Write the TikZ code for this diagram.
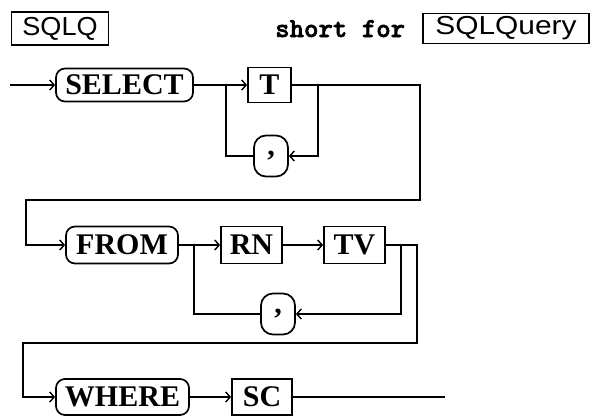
\documentclass[tikz,border=0pt]{standalone}
\usepackage{graphicx}
\usepackage{fontspec}
\newfontfamily\kwfont{Liberation Serif}
\newfontfamily\namefont{Liberation Sans}
\newfontfamily\twfont{lmmonolt10-bold.otf}[FakeBold=2]
\usetikzlibrary{arrows.meta}
\tikzset{
  conn/.style={line width=1.7pt},
  arr/.style={line width=1.7pt, -{Straight Barb[length=4.5pt,width=10pt,line width=1.4pt]}},
  kw/.style={font=\fontsize{30}{32}\selectfont\kwfont\bfseries},
  capsule/.style={draw, line width=1.7pt, rounded corners=9pt, inner sep=0pt, kw},
  commabox/.style={draw, line width=1.7pt, rounded corners=12pt, inner sep=0pt,
    minimum width=34pt, minimum height=41pt, kw},
  termbox/.style={draw, line width=1.7pt, inner sep=0pt, kw},
  namebox/.style={draw, line width=1.7pt, inner sep=0pt,
    font=\fontsize{26}{28}\selectfont\namefont},
}
\begin{document}
\begin{tikzpicture}[x=1pt,y=-1pt]
\useasboundingbox (0,0) rectangle (594,416);
% header
\node[namebox, minimum width=97pt, minimum height=33pt] (sqlq) at (60,28.5) {\scalebox{1.04}[1]{SQLQ}};
\node[anchor=base west, inner sep=0pt, font=\fontsize{27.5}{30}\selectfont\twfont] (short) at (275,37) {short for};
\node[namebox, minimum width=166pt, minimum height=30pt] (sqlquery) at (506,28.5) {\scalebox{1.15}[1]{SQLQuery}};
% row 1
\coordinate (start) at (10,85);
\node[capsule, minimum width=137pt, minimum height=33pt] (select) at (124.5,85) {SELECT};
\node[termbox, minimum width=43pt, minimum height=35pt] (t) at (269.5,85) {T};
\node[commabox] (c1) at (271,156) {,};
\coordinate (j1) at (226,85);
\coordinate (s1) at (318,85);
\coordinate (r1) at (420,85);
\coordinate (b1) at (420,200);
\coordinate (l1) at (26,200);
% row 2
\node[capsule, minimum width=112pt, minimum height=37pt] (from) at (122,245) {FROM};
\node[termbox, minimum width=61pt, minimum height=37pt] (rn) at (251.5,245) {RN};
\node[termbox, minimum width=61pt, minimum height=37pt] (tv) at (354.5,245) {TV};
\node[commabox] (c2) at (278,314) {,};
\coordinate (j2) at (194,245);
\coordinate (s2) at (401,245);
\coordinate (r2) at (417,245);
\coordinate (b2) at (417,343);
\coordinate (l2) at (23,343);
% row 3
\node[capsule, minimum width=133pt, minimum height=36pt] (where) at (122.5,397) {WHERE};
\node[termbox, minimum width=60pt, minimum height=36pt] (sc) at (262,397) {SC};
\coordinate (end) at (445,397);
% connectors
\draw[arr] (start) -- (select.west);
\draw[arr] (select.east) -- (t.west);
\draw[arr] (s1) |- (c1.east);
\draw[conn] (c1.west) -| (j1);
\draw[arr] (t.east) -- (r1) -- (b1) -- (l1) |- (from.west);
\draw[arr] (from.east) -- (rn.west);
\draw[arr] (rn.east) -- (tv.west);
\draw[arr] (s2) |- (c2.east);
\draw[conn] (c2.west) -| (j2);
\draw[arr] (tv.east) -- (r2) -- (b2) -- (l2) |- (where.west);
\draw[arr] (where.east) -- (sc.west);
\draw[conn] (sc.east) -- (end);
\end{tikzpicture}
\end{document}
